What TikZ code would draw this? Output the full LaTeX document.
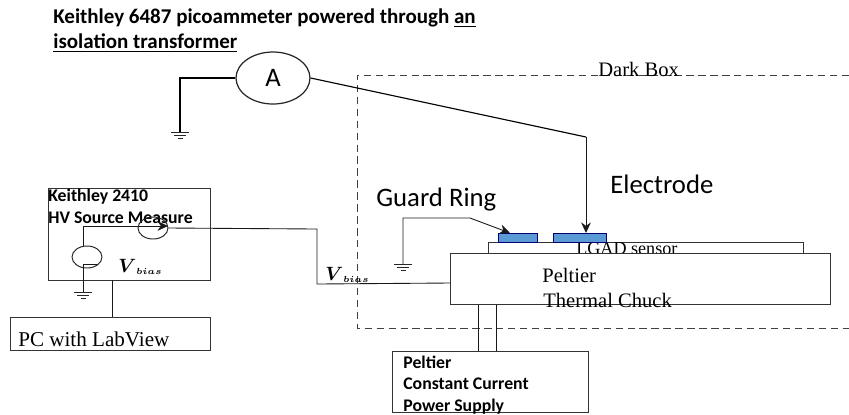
\documentclass[tikz,border=0pt]{standalone}
\usepackage{amsmath,amssymb}
\usepackage{fontspec}
\setmainfont{Liberation Serif}
\newfontfamily\calibri{Carlito}
\usetikzlibrary{positioning,arrows.meta,shapes.geometric}

\definecolor{padblue}{HTML}{5B9BD5}
\tikzset{
  wire/.style={black!90, line width=0.5pt},
  heavywire/.style={black, line width=0.65pt},
  tiparrow/.style={-{Stealth[length=6pt,width=5.5pt]}},
  darkline/.style={black!75, line width=0.5pt, dash pattern=on 4.2pt off 2.6pt},
  boxnode/.style={draw=black!80, line width=0.55pt, fill=white, rectangle, inner sep=0pt},
  padnode/.style={draw=blue!45!black, line width=0.8pt, fill=padblue, rectangle, inner sep=0pt},
  roundnode/.style={draw=black!85, line width=0.55pt, ellipse, inner sep=0pt},
  boldlabel/.style={font=\calibri\bfseries\fontsize{10.1}{12}\selectfont, align=left, anchor=base west, inner sep=0pt},
  biglabel/.style={font=\calibri\fontsize{15.2}{17}\selectfont, anchor=base west, inner sep=0pt},
  seriflabel/.style={font=\fontsize{11.7}{13}\selectfont, anchor=base west, inner sep=0pt},
  biaslabel/.style={font=\fontsize{10.5}{12}\selectfont, anchor=base west, inner sep=0pt},
  ground/.pic={
    \draw[black!85, line width=0.45pt] (-9,0) -- (9,0);
    \draw[black!85, line width=0.45pt] (-6,3) -- (6,3);
    \draw[black!85, line width=0.45pt] (-2.5,6) -- (2.5,6);
  }
}

\begin{document}
\begin{tikzpicture}[x=0.02cm, y=-0.02cm]
\useasboundingbox (0,0) rectangle (849,414);
% --- dark box ---
\coordinate (darkTL) at (357,75);
\coordinate (darkBL) at (357,328);
\coordinate (darkTR) at (849,75);
\coordinate (darkBR) at (849,328);
\draw[darkline] (darkTR) -- (darkTL) -- (darkBL) -- (darkBR);
\node[seriflabel] (darktext) at (598,76) {Dark Box};
% --- picoammeter ---
\node[font=\calibri\bfseries\fontsize{11.95}{14.2}\selectfont, align=left, anchor=base west, inner sep=0pt] (titletext) at (53,48)
  {Keithley 6487 picoammeter powered through \underline{an}\\\underline{isolation transformer}};
\node[roundnode, minimum width=1.48cm, minimum height=1.04cm, line width=0.7pt, font=\calibri\fontsize{15.2}{17}\selectfont] (ammeter) at (273,78) {A};
\coordinate (ampbend) at (180,78);
\coordinate (ampgnd) at (180,132);
\coordinate (probebend) at (586,137);
\draw[heavywire] (ammeter.west) -- (ampbend) -- (ampgnd);
\pic at (ampgnd) {ground};
% --- sensor stack ---
\node[boxnode, minimum width=6.3cm, minimum height=0.24cm, anchor=north west] (sensor) at (488,242) {};
\node[font=\fontsize{10.3}{12}\selectfont, anchor=base west, inner sep=0pt] (sensortext) at (576,254) {LGAD sensor};
\node[boxnode, minimum width=7.6cm, minimum height=1.02cm, anchor=north west] (chuck) at (450,253) {};
\node[padnode, minimum width=0.78cm, minimum height=0.18cm, anchor=north west] (guardpad) at (498,233) {};
\node[padnode, minimum width=1.06cm, minimum height=0.18cm, anchor=north west] (electrodepad) at (553,233) {};
\node[seriflabel] (chucktop) at (542,282) {Peltier};
\node[seriflabel] (chuckbot) at (543,307) {Thermal Chuck};
\node[biglabel] (guardtext) at (376,206) {Guard Ring};
\node[biglabel] (electrodetext) at (610,193) {Electrode};
\draw[heavywire] (ammeter.east) -- (probebend);
\draw[wire, tiparrow] (probebend) -- (probebend |- electrodepad.north);
\coordinate (guardgnd) at (403,264);
\coordinate (guardbend) at (403,218);
\coordinate (guardslant) at (470,218);
\coordinate (guardtip) at (510,233);
\draw[wire, tiparrow] (guardgnd) -- (guardbend) -- (guardslant) -- (guardtip);
\pic at (guardgnd) {ground};
% --- source measure ---
\node[boxnode, fill=none, minimum width=3.24cm, minimum height=1.84cm, anchor=north west] (keithley) at (48,188) {};
\node[boldlabel] (keithleytext) at (48,223) {Keithley 2410\\HV Source Measure};
\node[roundnode, minimum width=0.6cm, minimum height=0.44cm] (meter) at (153,228) {};
\node[roundnode, minimum width=0.6cm, minimum height=0.44cm] (source) at (87,257) {};
\node[boxnode, minimum width=4cm, minimum height=0.66cm, anchor=north west] (pc) at (10,317) {};
\node[font=\fontsize{12}{14}\selectfont, anchor=base west, inner sep=0pt] (pctext) at (18,346) {PC with LabView};
\coordinate (srctop) at (83,246);
\coordinate (srcbend) at (83,226);
\coordinate (srctip) at (168,226);
\coordinate (srcminusA) at (83,264);
\coordinate (srcminusB) at (97,264);
\coordinate (srcgnd) at (83,292);
\coordinate (biasA) at (317,229);
\coordinate (biasB) at (317,284);
\coordinate (biasC) at (450,283);
\coordinate (pclink) at (112,280);
\draw[wire, tiparrow] (srctop) -- (srcbend) -- (srctip);
\draw[wire] (meter.east) -- (biasA) -- (biasB) -- (biasC);
\draw[wire] (srcminusA) -- (srcminusB);
\draw[wire] (srcminusA) -- (srcgnd);
\pic at (srcgnd) {ground};
\draw[wire] (pclink) -- (pclink |- pc.north);
\node[biaslabel] (biasleft) at (118,272) {$\boldsymbol{V}_{\scriptscriptstyle\boldsymbol{bias}}$};
\node[biaslabel] (biasright) at (325,280) {$\boldsymbol{V}_{\scriptscriptstyle\boldsymbol{bias}}$};
% --- peltier supply ---
\node[boxnode, minimum width=3.92cm, minimum height=1.22cm, anchor=north west] (supply) at (392,351) {};
\node[boldlabel] (supplytext) at (403,411) {Peltier\\Constant Current\\Power Supply};
\coordinate (tecA) at (478,330);
\coordinate (tecB) at (496,330);
\draw[wire] (tecA |- chuck.south) -- (tecA |- supply.north);
\draw[wire] (tecB |- chuck.south) -- (tecB |- supply.north);
\end{tikzpicture}
\end{document}
